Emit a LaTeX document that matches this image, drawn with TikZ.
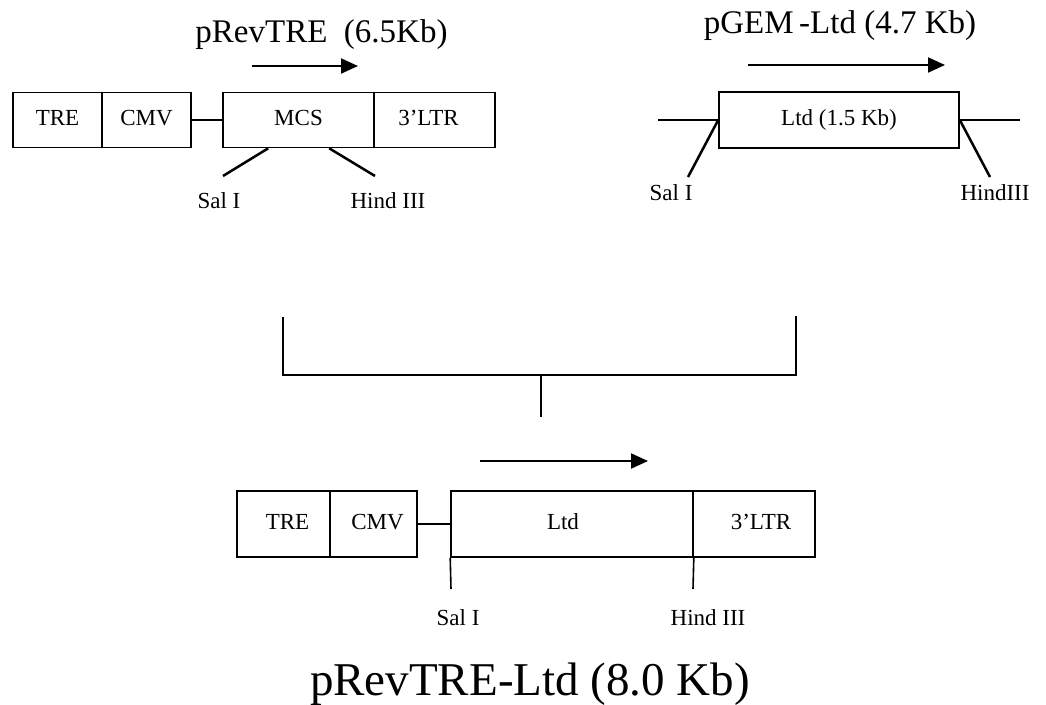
\documentclass[tikz,border=0pt]{standalone}
\usepackage{fontspec}
\setmainfont{Liberation Serif}
\usetikzlibrary{arrows.meta,calc}
\begin{document}
\begin{tikzpicture}[x=1pt,y=-1pt,
  seg/.style={draw, line width=1.6pt, rectangle, inner sep=0pt, text height=15pt, text depth=5pt, font=\fontsize{23}{27}\selectfont},
  lbl/.style={inner sep=0pt, anchor=base, font=\fontsize{23}{27}\selectfont},
  ttl/.style={inner sep=0pt, anchor=base, font=\fontsize{33}{39}\selectfont},
  bigttl/.style={inner sep=0pt, anchor=base, font=\fontsize{47}{54}\selectfont},
  wire/.style={line width=2.2pt},
  bwire/.style={line width=1.8pt},
  cut/.style={line width=2.5pt},
  tick/.style={line width=1.6pt},
  dirarrow/.style={line width=2pt, -{Triangle[length=17pt,width=15pt]}}]
\useasboundingbox (0,0) rectangle (1046,704);

% ---------- pRevTRE ----------
\node[ttl] (t1) at (321.5,42) {pRevTRE\ \ (6.5Kb)};
\coordinate (a1s) at (252,66);
\coordinate (a1e) at (358,66);
\draw[dirarrow] (a1s) -- (a1e);

\node[seg, minimum width=89pt, minimum height=55pt] (tre1) at (57.5,120) {TRE};
\node[seg, minimum width=89pt, minimum height=55pt] (cmv1) at (146.5,120) {CMV};
\node[seg, minimum width=151pt, minimum height=55pt] (mcs1) at (298.5,120) {MCS};
\node[seg, minimum width=121pt, minimum height=55pt] (ltr1) at (434.5,120) {3'LTR\hspace*{12pt}};
\draw[wire] (cmv1.east) -- (mcs1.west);

\coordinate (c1a) at ($(mcs1.south west)+(46,0)$);
\coordinate (c1b) at (223,176);
\coordinate (c2a) at ($(mcs1.south west)+(107,0)$);
\coordinate (c2b) at (375,176);
\draw[cut] (c1a) -- (c1b);
\draw[cut] (c2a) -- (c2b);
\node[lbl] (sal1) at (219,208) {Sal I};
\node[lbl] (hind1) at (388,208) {Hind III};

% ---------- pGEM-Ltd ----------
\node[ttl] (t2) at (840,33) {pGEM\,-Ltd (4.7 Kb)};
\coordinate (a2s) at (748,65);
\coordinate (a2e) at (945,65);
\draw[dirarrow] (a2s) -- (a2e);

\node[seg, minimum width=240pt, minimum height=56pt] (ltd2) at (839,120) {Ltd (1.5 Kb)};
\coordinate (w2l) at (658,120);
\coordinate (w2r) at (1020,120);
\draw[wire] (w2l) -- (ltd2.west);
\draw[wire] (ltd2.east) -- (w2r);
\coordinate (d1b) at (688,177);
\coordinate (d2b) at (990,177);
\draw[cut] (ltd2.west) -- (d1b);
\draw[cut] (ltd2.east) -- (d2b);
\node[lbl] (sal2) at (671,200) {Sal I};
\node[lbl] (hind2) at (995,200) {HindIII};

% ---------- joining bracket ----------
\coordinate (bl) at (283,317);
\coordinate (br) at (796,316);
\coordinate (bm) at (541,417);
\draw[bwire] (bl) |- (br |- 0,375) -- (br);
\draw[bwire] (bm |- 0,375) -- (bm);

% ---------- pRevTRE-Ltd ----------
\coordinate (a3s) at (480,461);
\coordinate (a3e) at (648,461);
\draw[dirarrow] (a3s) -- (a3e);

\node[seg, minimum width=93pt, minimum height=66pt] (tre3) at (283.5,524) {\hspace*{8pt}TRE};
\node[seg, minimum width=87pt, minimum height=66pt] (cmv3) at (373.5,524) {\hspace*{8pt}CMV};
\node[seg, minimum width=242pt, minimum height=66pt] (ltd3) at (572,524) {Ltd\hspace*{18pt}};
\node[seg, minimum width=122pt, minimum height=66pt] (ltr3) at (754,524) {\hspace*{14pt}3'LTR};
\draw[wire] (cmv3.east) -- (ltd3.west);

\coordinate (k1b) at (451,589);
\coordinate (k2b) at (693,589);
\draw[tick] (ltd3.south west) -- (k1b);
\draw[tick] (ltd3.south east) -- (k2b);
\node[lbl] (sal3) at (458,625) {Sal I};
\node[lbl] (hind3) at (708,625) {Hind III};

\node[bigttl] (t3) at (530,695) {pRevTRE-Ltd (8.0 Kb)};
\end{tikzpicture}
\end{document}
